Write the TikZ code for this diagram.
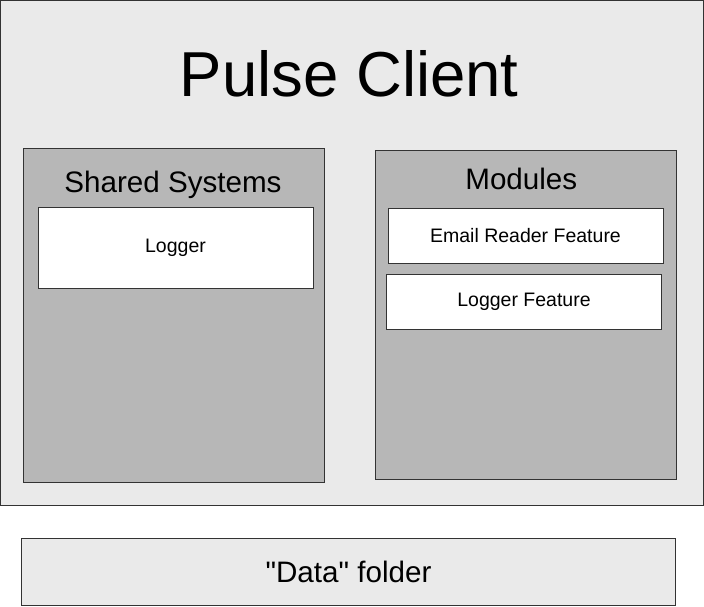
\documentclass[tikz,border=0pt]{standalone}
\usepackage{fontspec}
\setmainfont{Liberation Sans}
\usepackage{xcolor}
\usetikzlibrary{positioning}

\definecolor{clientgray}{HTML}{EAEAEA}
\definecolor{panelgray}{HTML}{B7B7B7}
\definecolor{edgegray}{HTML}{333333}

\tikzset{
  box/.style={rectangle, draw=edgegray, line width=1pt, inner sep=0pt, outer sep=0pt},
  client/.style={box, fill=clientgray},
  panel/.style={box, fill=panelgray, minimum width=301pt},
  feature/.style={box, fill=white, minimum width=275pt, font=\fontsize{19.5}{22}\selectfont},
  heading/.style={anchor=base, inner sep=0pt, font=\fontsize{29.6}{33}\selectfont},
}

\begin{document}
\begin{tikzpicture}[x=1pt, y=-1pt]
  \useasboundingbox (0,0) rectangle (704,607);
  % the client
  \node[client, minimum width=702.5pt, minimum height=504.5pt] (C) at (351.75,252.75) {};
  \node[heading, font=\fontsize{63.5}{70}\selectfont] (Ctitle) at (349.2,96.7) {Pulse Client};

  % shared systems
  \node[panel, minimum height=334pt] (S) at (174,315.5) {};
  \node[heading] (Stitle) at (173,192.5) {Shared Systems};
  \node[feature, minimum height=80.5pt] (L) at (175.5,247.75) {Logger};

  % modules
  \node[panel, minimum height=329pt] (M) at (526,315) {};
  \node[heading] (Mtitle) at (521.3,189.3) {Modules};
  \node[feature, minimum height=55pt] (E) at (525.5,236) {Email Reader Feature};
  \node[feature, minimum height=55pt] (LF) at (524,302) {Logger Feature};

  % data folder
  \node[client, minimum width=654pt, minimum height=67pt,
        font=\fontsize{29.6}{33}\selectfont] (D) at (348.5,572) {\textquotedbl Data\textquotedbl\ folder};
\end{tikzpicture}
\end{document}
